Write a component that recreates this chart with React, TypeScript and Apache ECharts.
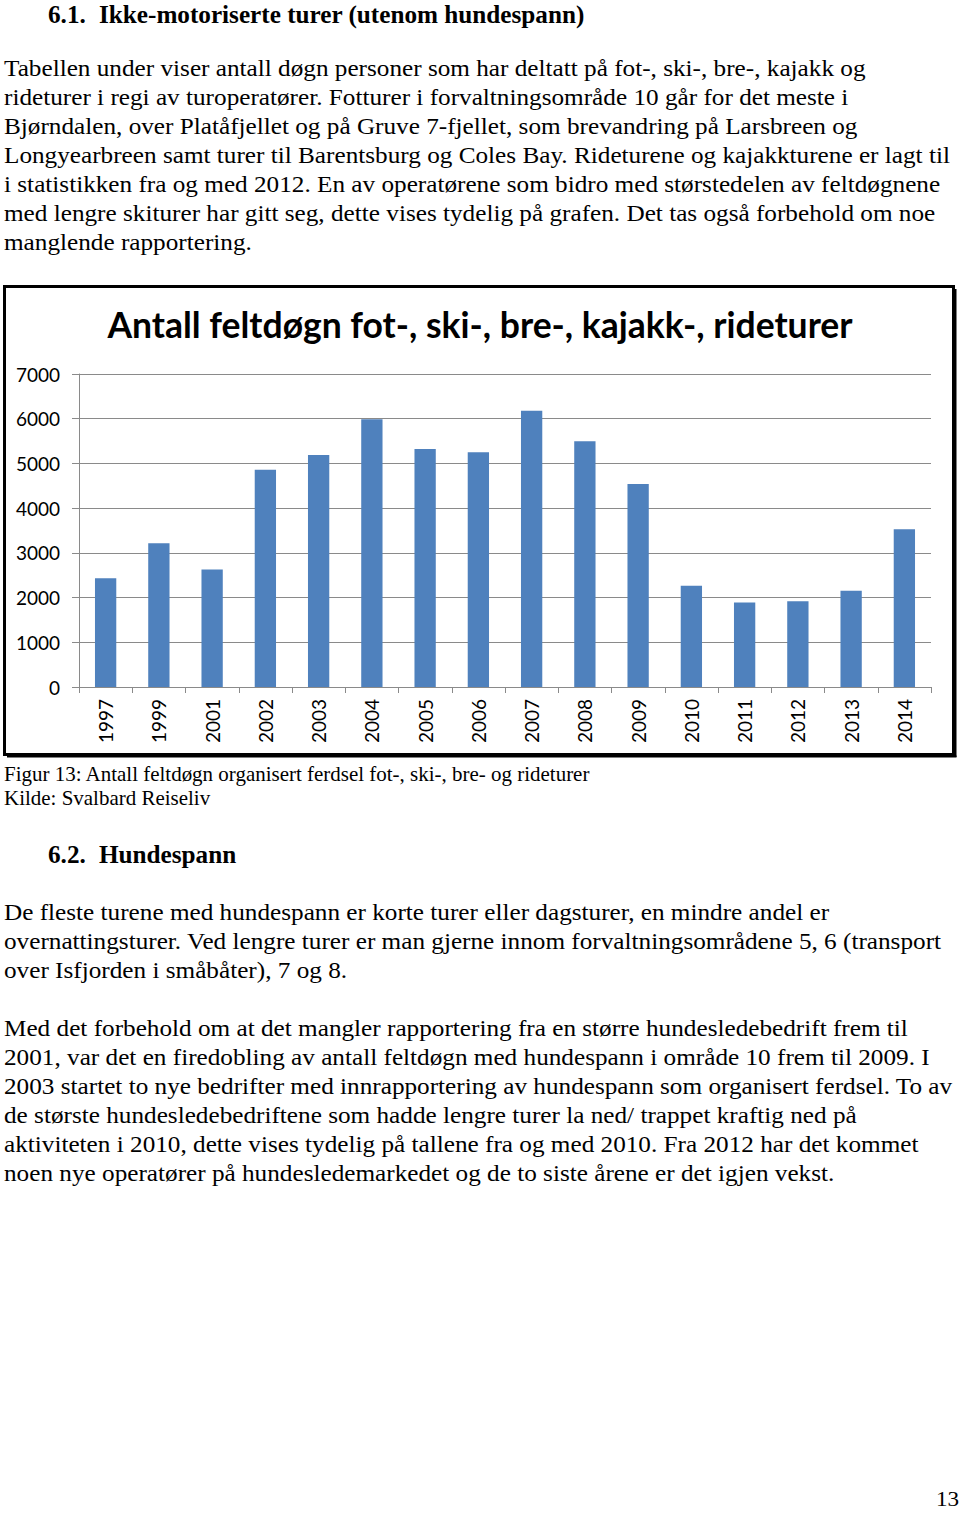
import React, { useEffect, useRef } from "react";
import * as echarts from "echarts";

// ---------- data ----------
const years = ["1997", "1999", "2001", "2002", "2003", "2004", "2005", "2006", "2007", "2008", "2009", "2010", "2011", "2012", "2013", "2014"];
const feltdogn = [2430, 3215, 2630, 4860, 5190, 5990, 5320, 5250, 6180, 5495, 4540, 2265, 1890, 1915, 2150, 3530];
const yMin = 0;
const yMax = 7000;
const yStep = 1000;

const chartTitle = "Antall feltdøgn fot-, ski-, bre-, kajakk-, rideturer";

const heading1Num = "6.1.";
const heading1Text = "Ikke-motoriserte turer (utenom hundespann)";
const para1 = [
  "Tabellen under viser antall døgn personer som har deltatt på fot-, ski-, bre-, kajakk og",
  "rideturer i regi av turoperatører. Fotturer i forvaltningsområde 10 går for det meste i",
  "Bjørndalen, over Platåfjellet og på Gruve 7-fjellet, som brevandring på Larsbreen og",
  "Longyearbreen samt turer til Barentsburg og Coles Bay. Rideturene og kajakkturene er lagt til",
  "i statistikken fra og med 2012. En av operatørene som bidro med størstedelen av feltdøgnene",
  "med lengre skiturer har gitt seg, dette vises tydelig på grafen. Det tas også forbehold om noe",
  "manglende rapportering.",
];
const captionLines = [
  "Figur 13: Antall feltdøgn organisert ferdsel fot-, ski-, bre- og rideturer",
  "Kilde: Svalbard Reiseliv",
];
const heading2Num = "6.2.";
const heading2Text = "Hundespann";
const para2 = [
  "De fleste turene med hundespann er korte turer eller dagsturer, en mindre andel er",
  "overnattingsturer. Ved lengre turer er man gjerne innom forvaltningsområdene 5, 6 (transport",
  "over Isfjorden i småbåter), 7 og 8.",
];
const para3 = [
  "Med det forbehold om at det mangler rapportering fra en større hundesledebedrift frem til",
  "2001, var det en firedobling av antall feltdøgn med hundespann i område 10 frem til 2009. I",
  "2003 startet to nye bedrifter med innrapportering av hundespann som organisert ferdsel. To av",
  "de største hundesledebedriftene som hadde lengre turer la ned/ trappet kraftig ned på",
  "aktiviteten i 2010, dette vises tydelig på tallene fra og med 2010. Fra 2012 har det kommet",
  "noen nye operatører på hundesledemarkedet og de to siste årene er det igjen vekst.",
];
const pageNumber = "13";

// ---------- styles ----------
const SERIF = '"Liberation Serif", "Times New Roman", serif';
const SANS = 'Lato, "Open Sans", sans-serif';
const BAR_COLOR = "#4f81bd";
const GRID_COLOR = "#8a8a8a";

export default function App() {
  const ref = useRef<HTMLDivElement>(null);

  useEffect(() => {
    if (!ref.current) return;
    const chart = echarts.init(ref.current, undefined, { renderer: "svg" });

    const ctx = document.createElement("canvas").getContext("2d")!;
    const measure = (t: string, font: string) => {
      ctx.font = font;
      return ctx.measureText(t).width || 1;
    };

    const bodySize = 24;
    const bodyFont = `${bodySize}px ${SERIF}`;
    const bodyScale = 862 / measure(para1[0], bodyFont);
    const capSize = 20;
    const capScale = 587 / measure(captionLines[0], `${capSize}px ${SERIF}`);
    const headSize = 26;
    const headScale = 486 / measure(heading1Text, `bold ${headSize}px ${SERIF}`);

    const textEl = (
      text: string,
      x: number,
      y: number,
      size: number,
      scale: number,
      bold = false
    ) => ({
      type: "text",
      x,
      y,
      scaleX: scale,
      silent: true,
      style: {
        text,
        fontFamily: SERIF,
        fontSize: size,
        fontWeight: bold ? "bold" : "normal",
        fill: "#000",
        align: "left",
        verticalAlign: "middle",
      },
    });

    const graphics: any[] = [];
    graphics.push(textEl(heading1Num, 48, 14, headSize, headScale, true));
    graphics.push(textEl(heading1Text, 99, 14, headSize, headScale, true));
    para1.forEach((l, i) => graphics.push(textEl(l, 4, 68 + i * 29, bodySize, bodyScale)));
    captionLines.forEach((l, i) => graphics.push(textEl(l, 4, 774 + i * 24, capSize, capScale)));
    graphics.push(textEl(heading2Num, 48, 854, headSize, headScale, true));
    graphics.push(textEl(heading2Text, 99, 854, headSize, headScale, true));
    para2.forEach((l, i) => graphics.push(textEl(l, 4, 912 + i * 29, bodySize, bodyScale)));
    para3.forEach((l, i) => graphics.push(textEl(l, 4, 1028 + i * 29, bodySize, bodyScale)));
    graphics.push(textEl(pageNumber, 936, 1499, 22, bodyScale));

    // chart frame with shadow
    graphics.push({
      type: "rect",
      silent: true,
      shape: { x: 4.5, y: 286.5, width: 949, height: 468 },
      style: { fill: "none", stroke: "#000", lineWidth: 3 },
    });
    graphics.push({
      type: "line",
      silent: true,
      shape: { x1: 955.5, y1: 289, x2: 955.5, y2: 757 },
      style: { stroke: "#000", lineWidth: 2 },
    });
    graphics.push({
      type: "line",
      silent: true,
      shape: { x1: 7, y1: 756.5, x2: 956.5, y2: 756.5 },
      style: { stroke: "#000", lineWidth: 2 },
    });

    chart.setOption({
      animation: false,
      backgroundColor: "#fff",
      title: {
        text: chartTitle,
        left: "center",
        top: 301,
        textStyle: { fontFamily: SANS, fontWeight: "bold", fontSize: 35.5, color: "#000" },
      },
      grid: { left: 79, right: 29, top: 374, bottom: 826 },
      xAxis: {
        type: "category",
        data: years,
        axisLine: { show: true, lineStyle: { color: GRID_COLOR, width: 1 } },
        axisTick: { show: true, length: 6, alignWithLabel: false, lineStyle: { color: GRID_COLOR } },
        axisLabel: { rotate: 90, margin: 12, interval: 0, fontFamily: SANS, fontSize: 19, color: "#000" },
        splitLine: { show: false },
      },
      yAxis: {
        type: "value",
        min: yMin,
        max: yMax,
        interval: yStep,
        axisLine: { show: true, lineStyle: { color: GRID_COLOR, width: 1 } },
        axisTick: { show: true, length: 7, lineStyle: { color: GRID_COLOR } },
        axisLabel: {
          margin: 19,
          fontFamily: SANS,
          fontSize: 19,
          color: "#000",
          formatter: (v: number) => String(v),
        },
        splitLine: { show: true, lineStyle: { color: GRID_COLOR, width: 1 } },
      },
      series: [
        {
          type: "bar",
          data: feltdogn,
          barWidth: "40%",
          itemStyle: { color: BAR_COLOR },
        },
      ],
      graphic: graphics,
    });

    return () => chart.dispose();
  }, []);

  return (
    <div
      ref={ref}
      style={{ position: "absolute", left: 0, top: 0, width: 960, height: 1513, background: "#fff" }}
    />
  );
}
